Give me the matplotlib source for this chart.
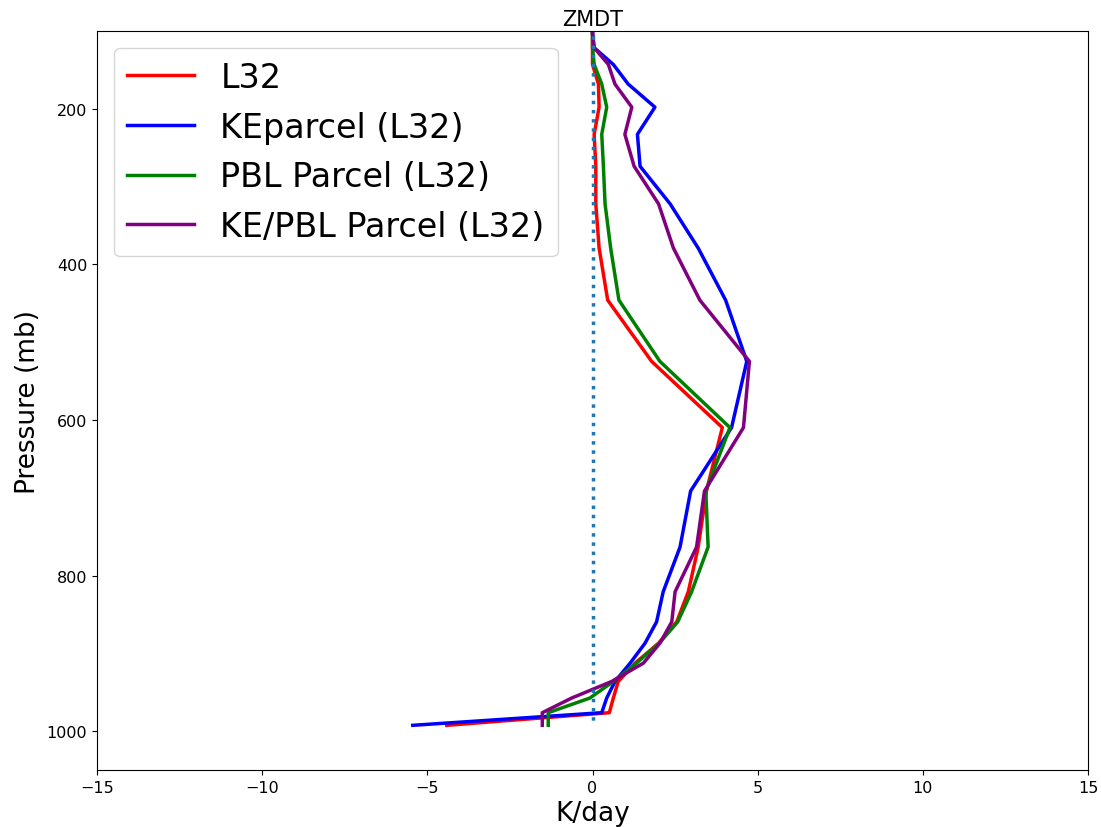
import matplotlib
matplotlib.use("Agg")
import matplotlib.pyplot as plt
import numpy as np

# Model mid-level pressures (mb)
lev = [3.64, 7.59, 14.36, 24.61, 38.27, 54.60, 72.01, 87.82, 103.32, 121.55,
       142.99, 168.23, 197.91, 232.83, 273.91, 322.24, 379.10, 445.99, 524.69,
       609.78, 691.39, 763.40, 820.86, 859.53, 887.02, 912.64, 936.20, 957.49,
       976.33, 992.56]

l32 = [0, 0, 0, 0, 0, 0, 0, 0, 0, 0,
       0.0, 0.18, 0.20, 0.05, 0.10, 0.10, 0.20, 0.46, 1.79,
       3.93, 3.45, 3.20, 2.90, 2.55, 2.00, 1.29, 0.78, 0.63,
       0.51, -4.41]
keparcel = [0, 0, 0, 0, 0, 0, 0, 0, 0, 0.05,
            0.63, 1.08, 1.89, 1.36, 1.44, 2.35, 3.20, 4.03, 4.67,
            4.21, 2.97, 2.65, 2.14, 1.94, 1.59, 1.14, 0.68, 0.43,
            0.28, -5.44]
pblparcel = [0, 0, 0, 0, 0, 0, 0, 0, 0, 0.0,
             0.05, 0.28, 0.43, 0.28, 0.33, 0.38, 0.55, 0.80, 2.04,
             4.16, 3.43, 3.50, 3.00, 2.58, 2.02, 1.33, 0.63, -0.08,
             -1.34, -1.34]
kepblparcel = [0, 0, 0, 0, 0, 0, 0, 0, 0, 0.05,
               0.48, 0.68, 1.19, 0.98, 1.26, 2.00, 2.45, 3.25, 4.75,
               4.57, 3.39, 3.15, 2.50, 2.40, 2.04, 1.54, 0.58, -0.63,
               -1.52, -1.52]
zero = [0.0] * len(lev)

labels = ["L32", "KEparcel (L32)", "PBL Parcel (L32)", "KE/PBL Parcel (L32)"]
colors = ["red", "blue", "green", "purple"]

fig = plt.figure(figsize=(11.01, 8.28), dpi=100)
ax = fig.add_axes([97/1101, 1 - 771/828, 991/1101, 739/828])

for data, lab, col in zip([l32, keparcel, pblparcel, kepblparcel], labels, colors):
    ax.plot(data, lev, color=col, lw=2.5, label=lab)
ax.plot(zero, lev, ':', color='C0', lw=2.5)

ax.set_xlim(-15, 15)
ax.set_ylim(1050, 100)
ax.set_xticks([-15, -10, -5, 0, 5, 10, 15])
ax.set_yticks([200, 400, 600, 800, 1000])
ax.tick_params(labelsize=11.5)
ax.set_xlabel("K/day", fontsize=19)
ax.set_ylabel("Pressure (mb)", fontsize=19)
ax.set_title("ZMDT", fontsize=15, pad=4)
ax.legend(loc="upper left", fontsize=24)

fig.savefig("out.png", dpi=100)
